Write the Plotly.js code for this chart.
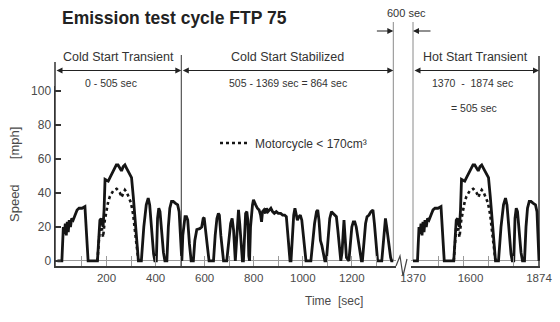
<!DOCTYPE html>
<html>
<head>
<meta charset="utf-8">
<script src="https://cdn.plot.ly/plotly-3.0.1.min.js"></script>
<style>
  html, body { margin: 0; padding: 0; background: #fff; }
  #chart { width: 560px; height: 322px; }
</style>
</head>
<body>
<div id="chart"></div>
<script>
// FTP 75 driving cycle: vehicle speed [mph] over time [sec]

// Cold start transient phase (0 - 505 s)
const transientTime = [
  0, 18, 24, 28, 32, 36, 40, 44, 48, 53,
  58, 64, 72, 80, 88, 100, 112, 118, 125, 163,
  168, 173, 178, 186, 190, 194, 200, 207, 214, 221,
  228, 234, 240, 247, 254, 261, 268, 275, 282, 289,
  296, 302, 309, 316, 323, 330, 342, 352, 362, 370,
  376, 384, 392, 397, 403, 408, 413, 418, 424, 432,
  438, 446, 452, 458, 465, 472, 480, 490, 496, 501,
  507
];
const transientSpeed = [
  0, 0, 20, 16, 22, 15, 23, 17, 24, 20,
  25, 24, 27, 30, 31, 31, 32, 15, 0, 0,
  10, 24, 25, 20, 30, 48, 47.5, 47, 49, 51,
  53, 55, 56.5, 56.5, 55, 53, 55.5, 56.5, 54.5, 52.5,
  51, 49, 38, 24, 10, 0, 0, 20, 33, 37,
  33, 18, 4, 0, 0, 25, 31, 29, 18, 5,
  0, 0, 20, 31, 35, 35, 34, 33, 29, 15,
  0
];

// Cold start stabilized phase (505 - 1369 s)
const stabilizedTime = [
  511, 515, 520, 526, 531, 538, 545, 554, 560, 568,
  580, 588, 594, 598, 603, 610, 618, 636, 643, 650,
  656, 660, 666, 672, 677, 690, 698, 706, 712, 718,
  725, 729, 734, 738, 743, 749, 754, 758, 763, 767,
  772, 776, 780, 783, 787, 791, 795, 799, 803, 808,
  815, 822, 828, 832, 836, 842, 848, 852, 858, 864,
  870, 877, 884, 892, 900, 910, 918, 926, 933, 940,
  948, 952, 958, 963, 968, 973, 978, 984, 990, 996,
  1002, 1008, 1013, 1033, 1040, 1048, 1056, 1061, 1066, 1072,
  1078, 1084, 1090, 1096, 1102, 1110, 1117, 1124, 1131, 1137,
  1143, 1150, 1155, 1160, 1165, 1168, 1172, 1178, 1188, 1194,
  1200, 1206, 1212, 1218, 1224, 1232, 1239, 1243, 1248, 1252,
  1256, 1262, 1270, 1278, 1286, 1292, 1298, 1305, 1322, 1328,
  1333, 1337, 1342, 1350, 1358, 1362, 1369
];
const stabilizedSpeed = [
  15, 22, 26, 26, 24, 10, 0, 0, 12, 18.5,
  19, 20, 25, 25.5, 20, 10, 0, 0, 15, 25,
  28, 27, 15, 4, 0, 0, 12, 22, 25, 18,
  0, 10, 26, 30, 22, 8, 0, 0, 18, 28,
  29, 24, 3, 0, 20, 30, 33, 36, 34, 33,
  31, 30, 27, 23, 29, 30, 28, 31, 29, 30,
  31, 29, 28, 29, 28, 28, 27, 27, 26, 14,
  0, 0, 15, 27, 31, 26, 24, 26, 27, 24,
  15, 5, 0, 0, 10, 22, 29, 30, 24, 12,
  9, 5, 0, 0, 12, 25, 29, 28, 27, 26,
  18, 6, 0, 5, 20, 24, 15, 2, 0, 10,
  20, 23, 23, 20, 14, 5, 0, 0, 10, 12,
  22, 26, 27, 29, 30, 22, 10, 0, 0, 10,
  22, 25, 20, 10, 2, 0, 0
];

// Hot start transient phase (1370 - 1874 s)
const hotTime = [
  1370, 1388, 1394, 1398, 1402, 1406, 1410, 1414, 1418, 1423,
  1428, 1434, 1442, 1450, 1458, 1470, 1482, 1488, 1495, 1533,
  1538, 1543, 1548, 1556, 1560, 1564, 1570, 1577, 1584, 1591,
  1598, 1604, 1610, 1617, 1624, 1631, 1638, 1645, 1652, 1659,
  1666, 1672, 1679, 1686, 1693, 1700, 1712, 1722, 1732, 1740,
  1746, 1754, 1762, 1767, 1773, 1778, 1783, 1788, 1794, 1802,
  1808, 1816, 1822, 1828, 1835, 1842, 1850, 1860, 1866, 1870,
  1874
];
const hotSpeed = [
  0, 0, 20, 16, 22, 15, 23, 17, 24, 20,
  25, 24, 27, 30, 31, 31, 32, 15, 0, 0,
  10, 24, 25, 20, 30, 48, 47.5, 47, 49, 51,
  53, 55, 56.5, 56.5, 55, 53, 55.5, 56.5, 54.5, 52.5,
  51, 49, 38, 24, 10, 0, 0, 20, 33, 37,
  33, 18, 4, 0, 0, 25, 31, 29, 18, 5,
  0, 0, 20, 31, 35, 35, 34, 33, 29, 15,
  0
];

// Motorcycle < 170 cm3: reduced speed on the fast section
const motoColdTime = [163, 168, 173, 178, 186, 193, 200, 207, 214, 221, 228, 234, 241, 248,
  255, 261, 268, 275, 282, 289, 294, 299, 304, 309, 316, 322, 330];
const motoHotTime = [1533, 1538, 1543, 1548, 1556, 1563, 1570, 1577, 1584, 1591, 1598, 1604, 1611, 1618,
  1625, 1631, 1638, 1645, 1652, 1659, 1664, 1669, 1674, 1679, 1686, 1692, 1700];
const motoSpeed = [0, 10, 20, 22, 14, 24, 30, 35, 38, 40, 41.5, 42, 42.5, 41.5,
  40, 37.5, 39.5, 41.8, 40.5, 38, 36.5, 34.5, 31, 27, 17.5, 8, 0];

// Axis ticks
const speedTicks = [0, 20, 40, 60, 80, 100];
const coldTicks = [200, 400, 600, 800, 1000, 1200];
const coldMinorTicks = [100, 200, 300, 400, 500, 600, 700, 800, 900, 1000, 1100, 1200, 1300];
const hotTicks = [1370, 1600, 1874];
const hotMinorTicks = [1470, 1570, 1670, 1770];

const FONT = "'Liberation Sans', Arial, sans-serif";
const TITLE_FONT = "'Liberation Sans Narrow', 'Arial Narrow', 'Liberation Sans', Arial, sans-serif";
const TXT = '#333';

// plot frame in pixels, used to place decorations in paper units
const L = 55, R = 540, T = 86, B = 266;
const px = x => (x - L) / (R - L);
const py = y => (B - y) / (B - T);

const solid = {color: '#151515', width: 2.8};
const dotted = {color: '#151515', width: 2.6, dash: 'dot'};

const traces = [
  {x: transientTime.concat(stabilizedTime), y: transientSpeed.concat(stabilizedSpeed),
   xaxis: 'x', yaxis: 'y', mode: 'lines', line: solid, showlegend: false, hoverinfo: 'skip'},
  {x: motoColdTime, y: motoSpeed, xaxis: 'x', yaxis: 'y', mode: 'lines', line: dotted,
   name: 'Motorcycle < 170cm\u00b3', showlegend: true},
  {x: hotTime, y: hotSpeed, xaxis: 'x2', yaxis: 'y', mode: 'lines', line: solid, showlegend: false},
  {x: motoHotTime, y: motoSpeed, xaxis: 'x2', yaxis: 'y', mode: 'lines', line: dotted, showlegend: false}
];

const xCommon = {
  showline: true, linecolor: '#3a3a3a', linewidth: 2, mirror: false,
  showgrid: false, zeroline: false, ticks: '', tickmode: 'array',
  tickfont: {family: FONT, size: 11.5, color: '#4a4a4a'},
  fixedrange: true
};
const minorStyle = {ticks: 'inside', ticklen: 10, tickwidth: 1, tickcolor: '#9a9a9a', showgrid: false};

function arrow(xref, from, to, y, side) {
  return {xref: xref, yref: 'paper', x: to, y: y, axref: xref, ax: from, ayref: 'pixel', ay: 0,
    text: '', showarrow: true, arrowhead: 2, startarrowhead: 2, arrowsize: 1, startarrowsize: 1,
    arrowwidth: 1.2, arrowcolor: '#222', arrowside: side, standoff: 0, startstandoff: 0};
}
function label(xref, x, y, text, size) {
  return {xref: xref, yref: 'paper', x: x, y: y, text: text, showarrow: false,
    xanchor: 'center', yanchor: 'middle', font: {family: FONT, size: size, color: TXT}};
}
function vline(xref, x, yTop, yBot, color, width) {
  return {type: 'line', xref: xref, yref: 'paper', x0: x, x1: x, y0: py(yBot), y1: py(yTop),
    line: {color: color, width: width}, layer: 'below'};
}

const arrowY = py(70.5);
const layout = {
  width: 560, height: 322,
  margin: {l: L, r: 560 - R, t: T, b: 322 - B, pad: 0},
  paper_bgcolor: '#fff', plot_bgcolor: '#fff',
  font: {family: FONT, color: TXT},
  title: {text: '<b>Emission test cycle FTP 75</b>', xref: 'container', x: 62 / 560,
    xanchor: 'left', yref: 'container', y: 1 - 18 / 322, yanchor: 'middle',
    font: {family: TITLE_FONT, size: 17.5, color: '#222'}},
  xaxis: Object.assign({}, xCommon, {domain: [0, px(396)], range: [-10, 1380], anchor: 'y',
    tickvals: coldTicks, minor: Object.assign({tickmode: 'array', tickvals: coldMinorTicks}, minorStyle)}),
  xaxis2: Object.assign({}, xCommon, {domain: [px(411), 1], range: [1362, 1878], anchor: 'y',
    tickvals: hotTicks, minor: Object.assign({tickmode: 'array', tickvals: hotMinorTicks}, minorStyle)}),
  yaxis: {domain: [0, 1], range: [-3, 103], tickmode: 'array', tickvals: speedTicks,
    ticks: 'inside', ticklen: 6, tickwidth: 1.2, tickcolor: '#333',
    showline: true, linecolor: '#333', linewidth: 1.5,
    zeroline: true, zerolinecolor: '#9a9a9a', zerolinewidth: 1, showgrid: false,
    tickfont: {family: FONT, size: 12, color: '#4a4a4a'}, fixedrange: true},
  showlegend: true,
  legend: {x: px(215), y: py(143), xanchor: 'left', yanchor: 'middle', bgcolor: 'rgba(0,0,0,0)',
    borderwidth: 0, font: {family: FONT, size: 12, color: TXT}, itemwidth: 30},
  shapes: [
    vline('paper', 0, 62, B, '#333', 1.5),
    vline('x', 505, 55, B, '#555', 1.2),
    vline('x', 1369, 22, 261, '#8a8a8a', 1),
    vline('x2', 1370, 22, 261, '#8a8a8a', 1),
    vline('x2', 1874, 56, B, '#333', 1.5),
    // axis break mark between the two time ranges
    {type: 'path', xref: 'paper', yref: 'paper',
     path: 'M' + px(396) + ',' + py(B) + ' L' + px(400) + ',' + py(256) + ' L' + px(403) + ',' + py(276) +
           ' L' + px(407) + ',' + py(259),
     line: {color: '#444', width: 1.2}}
  ],
  annotations: [
    label('x', 250, py(57), 'Cold Start Transient', 12.5),
    label('x', 218, py(83), '0 - 505 sec', 10.5),
    label('x', 936, py(57), 'Cold Start Stabilized', 12.5),
    label('x', 940, py(83), '505 - 1369 sec = 864 sec', 10.5),
    label('x2', 1618, py(57), 'Hot Start Transient', 12.5),
    label('x2', 1606, py(83), '1370\u00a0 -\u00a0 1874 sec', 10.5),
    label('x2', 1614, py(108), '= 505 sec', 10.5),
    label('paper', px(406), py(13), '600 sec', 11),
    arrow('x', -10, 505, arrowY, 'end+start'),
    arrow('x', 505, 1369, arrowY, 'end+start'),
    arrow('x2', 1370, 1874, arrowY, 'end+start'),
    arrow('x', 1296, 1369, py(31), 'end'),
    arrow('x2', 1446, 1370, py(31), 'end'),
    {xref: 'paper', yref: 'paper', x: px(334), y: py(301), text: 'Time\u00a0 [sec]', showarrow: false,
     xanchor: 'center', yanchor: 'middle', font: {family: FONT, size: 12, color: '#4a4a4a'}},
    {xref: 'paper', yref: 'paper', x: px(14), y: py(175),
     text: 'Speed\u00a0\u00a0\u00a0\u00a0\u00a0\u00a0 [mph]', showarrow: false,
     textangle: -90, xanchor: 'center', yanchor: 'middle', font: {family: FONT, size: 13, color: '#4a4a4a'}}
  ]
};

Plotly.newPlot('chart', traces, layout, {displayModeBar: false, staticPlot: true});
</script>
</body>
</html>
